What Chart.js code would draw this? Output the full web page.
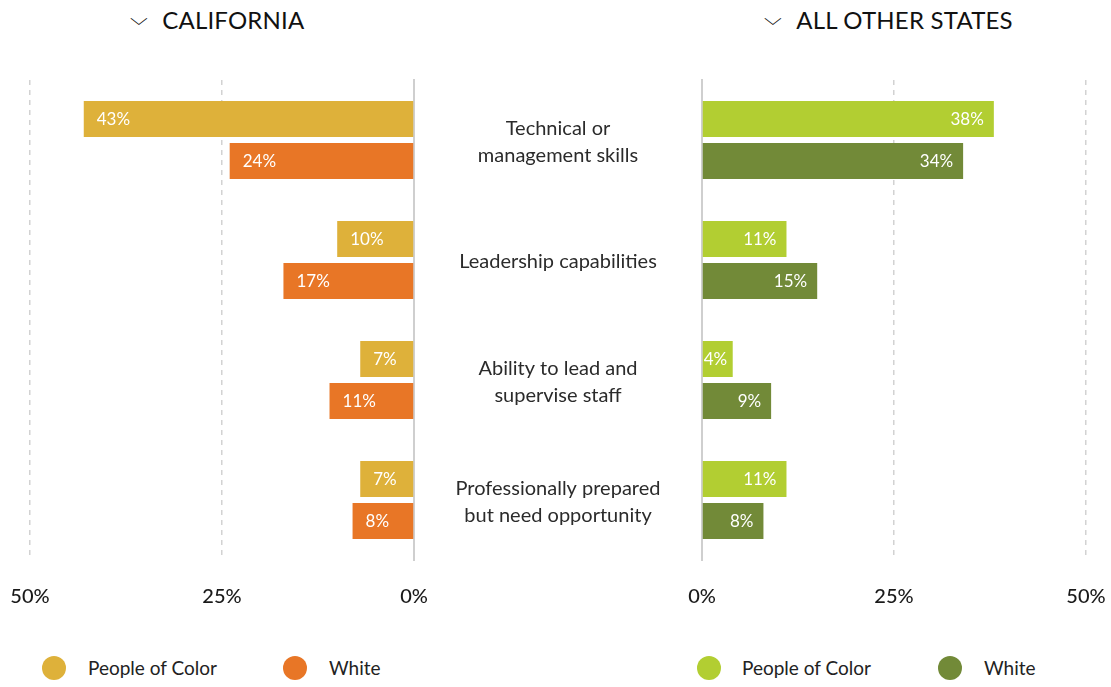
<!DOCTYPE html>
<html>
<head>
<meta charset="utf-8">
<script src="https://cdn.jsdelivr.net/npm/chart.js"></script>
<style>
  body { margin: 0; background: #fff; font-family: Lato, "Open Sans", sans-serif; }
  #wrap { position: relative; width: 1111px; height: 687px; overflow: hidden; }
  .head { position: absolute; top: 5px; font-size: 24px; color: #111; letter-spacing: 0.2px; }
  .head span { display: inline-block; font-size: 18px; margin-right: 16px; transform: translateY(-4px) scaleX(1.3); }
  .legend { position: absolute; top: 656px; font-size: 19px; color: #222; }
  .legend i { position: absolute; top: 0px; width: 24px; height: 24px; border-radius: 50%; }
  .legend b { position: absolute; top: 0; font-weight: normal; white-space: nowrap; }
  canvas { position: absolute; top: 0; }
</style>
</head>
<body>
<div id="wrap">
  <div class="head" style="left:132px"><span>&#x2335;</span>CALIFORNIA</div>
  <div class="head" style="left:766px"><span>&#x2335;</span>ALL OTHER STATES</div>
  <div style="position:absolute;left:0;top:0;width:702px;height:620px"><canvas id="chartCA"></canvas></div>
  <div style="position:absolute;left:680px;top:0;width:431px;height:620px"><canvas id="chartOther"></canvas></div>
  <div id="legends"></div>
</div>
<script>
// categories (middle labels, one array per line)
var categories = [
  ["Technical or", "management skills"],
  ["Leadership capabilities"],
  ["Ability to lead and", "supervise staff"],
  ["Professionally prepared", "but need opportunity"]
];
var seriesNames = ["People of Color", "White"];

// percent values
var caPoc = [43, 10, 7, 7];
var caWhite = [24, 17, 11, 8];
var otherPoc = [38, 11, 4, 11];
var otherWhite = [34, 15, 9, 8];

var caColors = ["#DEB13A", "#E87626"];
var otherColors = ["#B2CE32", "#728A38"];

var axisMax = 50;
var axisStep = 25;

// draws the % label inside each bar
var barLabels = {
  id: "barLabels",
  afterDatasetsDraw: function (chart) {
    var ctx = chart.ctx;
    var reverse = chart.options.scales.x.reverse;
    ctx.save();
    ctx.font = "17px Lato, sans-serif";
    ctx.fillStyle = "#fff";
    ctx.textBaseline = "middle";
    ctx.textAlign = "left";
    chart.data.datasets.forEach(function (ds, di) {
      var meta = chart.getDatasetMeta(di);
      meta.data.forEach(function (bar, i) {
        var txt = ds.data[i] + "%";
        var w = ctx.measureText(txt).width;
        if (reverse) {
          ctx.fillText(txt, bar.x + 13, bar.y + 1);
        } else {
          var x = Math.max(bar.x - 10 - w, bar.base + 1);
          ctx.fillText(txt, x, bar.y + 1);
        }
      });
    });
    ctx.restore();
  }
};

// draws the category names between the two panels
var middleLabels = {
  id: "middleLabels",
  afterDraw: function (chart) {
    var ctx = chart.ctx;
    var y = chart.scales.y;
    ctx.save();
    ctx.font = "20px Lato, sans-serif";
    ctx.fillStyle = "#2b2b2b";
    ctx.textAlign = "center";
    ctx.textBaseline = "middle";
    categories.forEach(function (lines, i) {
      var cy = y.getPixelForValue(i) + 2;
      var top = cy - (lines.length - 1) * 27 / 2;
      lines.forEach(function (l, j) {
        ctx.fillText(l, 558, top + j * 27);
      });
    });
    ctx.restore();
  }
};

function makeOptions(reverse, padding) {
  return {
    responsive: true,
    maintainAspectRatio: false,
    animation: false,
    indexAxis: "y",
    layout: { padding: padding },
    plugins: { legend: { display: false }, tooltip: { enabled: false } },
    scales: {
      x: {
        min: 0,
        max: axisMax,
        reverse: reverse,
        afterFit: function (s) {
          s.height = 60;
          s.paddingLeft = 0;
          s.paddingRight = 0;
        },
        ticks: {
          stepSize: axisStep,
          padding: 25,
          color: "#1a1a1a",
          font: { family: "Lato, sans-serif", size: 20, weight: "500" },
          callback: function (v) { return v + "%"; }
        },
        grid: {
          drawTicks: false,
          lineWidth: 1.5,
          color: function (c) { return c.tick && c.tick.value === 0 ? "rgba(0,0,0,0)" : "#d2d2d2"; }
        },
        border: { display: false, dash: [5, 5] }
      },
      y: {
        position: reverse ? "right" : "left",
        afterFit: function (s) { s.width = 0; },
        ticks: { display: false },
        grid: { display: false, drawTicks: false },
        border: { display: true, color: "#cfcfcf", width: 2 }
      }
    }
  };
}

function makeData(a, b, colors) {
  return {
    labels: categories,
    datasets: [
      { label: seriesNames[0], data: a, backgroundColor: colors[0], categoryPercentage: 0.7, barPercentage: 0.857 },
      { label: seriesNames[1], data: b, backgroundColor: colors[1], categoryPercentage: 0.7, barPercentage: 0.857 }
    ]
  };
}

new Chart(document.getElementById("chartCA"), {
  type: "bar",
  data: makeData(caPoc, caWhite, caColors),
  options: makeOptions(true, { left: 30, right: 288, top: 80, bottom: 0 }),
  plugins: [barLabels, middleLabels]
});

new Chart(document.getElementById("chartOther"), {
  type: "bar",
  data: makeData(otherPoc, otherWhite, otherColors),
  options: makeOptions(false, { left: 22, right: 25, top: 80, bottom: 0 }),
  plugins: [barLabels]
});

// legends built from the series names and colours
var legendPos = [
  { colors: caColors, circles: [42, 283], texts: [88, 329] },
  { colors: otherColors, circles: [697, 938], texts: [742, 984] }
];
var html = "";
legendPos.forEach(function (p) {
  seriesNames.forEach(function (name, i) {
    html += '<div class="legend"><i style="left:' + p.circles[i] + 'px;background:' + p.colors[i] + '"></i>' +
      '<b style="left:' + p.texts[i] + 'px">' + name + '</b></div>';
  });
});
document.getElementById("legends").innerHTML = html;
</script>
</body>
</html>
